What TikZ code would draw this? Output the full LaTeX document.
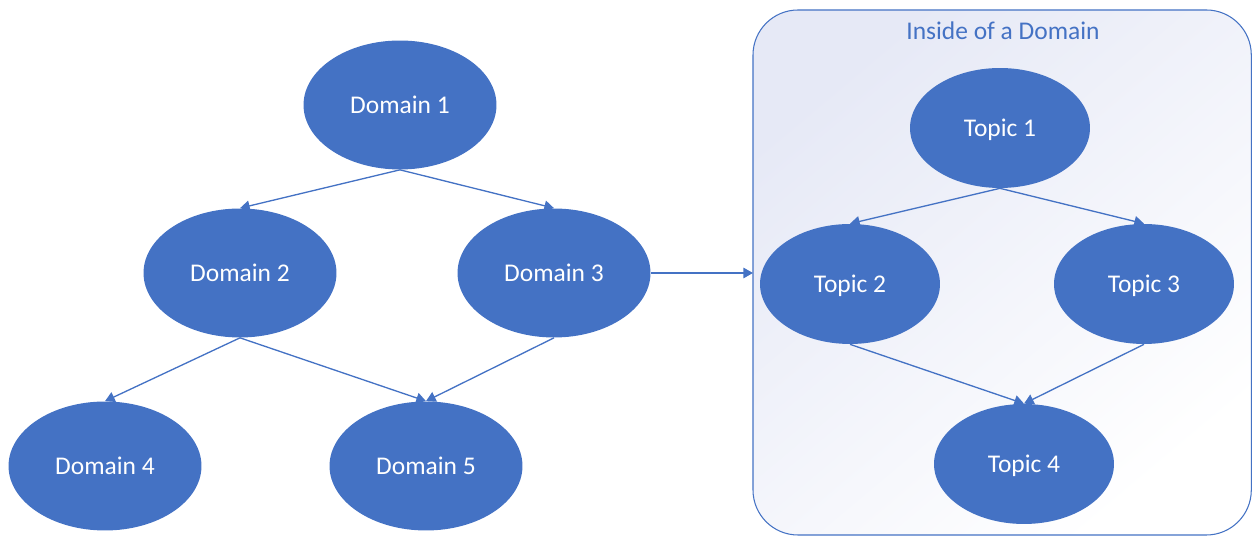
\documentclass[tikz,border=0pt]{standalone}
\usepackage{fontspec}
\setmainfont{Carlito}
\usetikzlibrary{arrows.meta,shapes.geometric}
\definecolor{officeblue}{HTML}{4472C4}
\definecolor{boxlav}{HTML}{E6E9F6}
\tikzset{
  blob/.style={ellipse, fill=officeblue, text=white, font=\fontsize{14.5}{17}\selectfont,
               inner sep=0pt, text height=10.2pt, text depth=0pt},
  link/.style={draw=officeblue, line width=0.75pt, -{Triangle[length=5.5pt, width=6pt]}},
  dom/.style={blob, minimum width=3.86cm, minimum height=2.58cm},
  topicnode/.style={blob, minimum width=3.6cm, minimum height=2.4cm},
}
\begin{document}
\begin{tikzpicture}[x=0.02cm, y=-0.02cm]
\useasboundingbox (0,0) rectangle (1252,536);

% container for the inner view of a domain
\path[draw=officeblue, line width=0.6pt, rounded corners=0.9cm,
      top color=boxlav, middle color=white, bottom color=white, shading angle=40]
  (753,10) rectangle (1251.3,535);
\node[text=officeblue, font=\fontsize{14.5}{17}\selectfont] (title) at (1003,31) {Inside of a Domain};

% domain tree
\node[dom] (d1) at (400,105) {Domain 1};
\node[dom] (d2) at (240,273) {Domain 2};
\node[dom] (d3) at (554,273) {Domain 3};
\node[dom] (d4) at (105,466) {Domain 4};
\node[dom] (d5) at (426,466) {Domain 5};

% topic tree
\node[topicnode] (t1) at (1000,128) {Topic 1};
\node[topicnode] (t2) at (850,284) {Topic 2};
\node[topicnode] (t3) at (1144,284) {Topic 3};
\node[topicnode] (t4) at (1024,464) {Topic 4};

\draw[link] (d1.south) -- (d2.north);
\draw[link] (d1.south) -- (d3.north);
\draw[link] (d2.south) -- (d4.north);
\draw[link] (d2.south) -- (d5.north);
\draw[link] (d3.south) -- (d5.north);

\draw[link] (t1.south) -- (t2.north);
\draw[link] (t1.south) -- (t3.north);
\draw[link] (t2.south) -- (t4.north);
\draw[link] (t3.south) -- (t4.north);

\coordinate (boxin) at (753,273);
\draw[link] (d3.east) -- (boxin);
\end{tikzpicture}
\end{document}
